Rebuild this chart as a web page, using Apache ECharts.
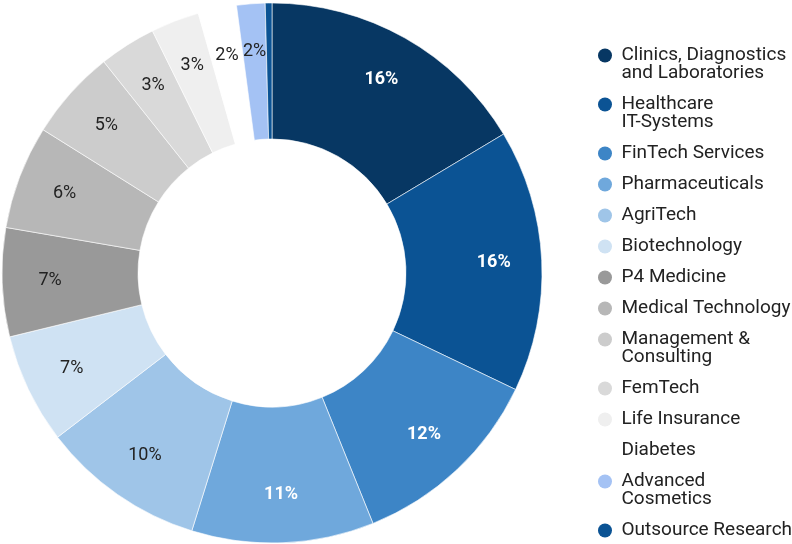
<!DOCTYPE html>
<html>
<head>
<meta charset="utf-8">
<script src="https://cdn.jsdelivr.net/npm/echarts@6/dist/echarts.min.js"></script>
<style>
html,body{margin:0;padding:0;background:#fff;}
#chart{width:792px;height:544px;}
</style>
</head>
<body>
<div id="chart"></div>
<script>
// ---- data ----
const categories = [
  'Clinics, Diagnostics and Laboratories',
  'Healthcare IT-Systems',
  'FinTech Services',
  'Pharmaceuticals',
  'AgriTech',
  'Biotechnology',
  'P4 Medicine',
  'Medical Technology',
  'Management & Consulting',
  'FemTech',
  'Life Insurance',
  'Diabetes',
  'Advanced Cosmetics',
  'Outsource Research'
];
const values = [16.4, 15.7, 11.8, 10.9, 9.8, 6.6, 6.5, 6.2, 5.4, 3.4, 2.9, 2.3, 1.7, 0.4];
const legendLines = [
  ['Clinics, Diagnostics', 'and Laboratories'],
  ['Healthcare', 'IT-Systems'],
  ['FinTech Services'],
  ['Pharmaceuticals'],
  ['AgriTech'],
  ['Biotechnology'],
  ['P4 Medicine'],
  ['Medical Technology'],
  ['Management &', 'Consulting'],
  ['FemTech'],
  ['Life Insurance'],
  ['Diabetes'],
  ['Advanced', 'Cosmetics'],
  ['Outsource Research']
];

// ---- styles ----
const colors = ['#073763', '#0b5394', '#3d85c6', '#6fa8dc', '#9fc5e8', '#cfe2f3',
  '#999999', '#b7b7b7', '#cccccc', '#d9d9d9', '#efefef', '#ffffff', '#a4c2f4', '#0b5394'];
const labelColors = ['#ffffff', '#ffffff', '#ffffff', '#ffffff', '#222222', '#222222',
  '#222222', '#222222', '#222222', '#222222', '#222222', '#222222', '#222222', '#222222'];
const FONT = 'Roboto, "Noto Sans", sans-serif';

const rich = {
  t: { fontSize: 19, lineHeight: 18, fontFamily: FONT, color: '#222222' },
  g: { width: 9.5, lineHeight: 18 },
  s: { width: 23.5, lineHeight: 18 }
};
colors.forEach(function (c, i) {
  rich['d' + i] = { width: 14, height: 14, borderRadius: 7, backgroundColor: c, lineHeight: 18 };
});

const pieData = categories.map(function (name, i) {
  return { name: name, value: values[i], itemStyle: { color: colors[i] } };
});
const labelData = categories.map(function (name, i) {
  return {
    name: name, value: values[i],
    itemStyle: { color: 'rgba(0,0,0,0)' },
    label: {
      color: labelColors[i],
      fontWeight: labelColors[i] === '#ffffff' ? 'bold' : 'normal'
    }
  };
});

const chart = echarts.init(document.getElementById('chart'), null, { renderer: 'canvas' });
chart.setOption({
  animation: false,
  backgroundColor: '#ffffff',
  legend: {
    orient: 'vertical',
    left: 588,
    top: 41,
    bottom: 0,
    itemGap: 12,
    itemWidth: 0,
    itemHeight: 14,
    icon: 'none',
    selectedMode: false,
    data: categories,
    textStyle: { fontSize: 19, lineHeight: 18, fontFamily: FONT, color: '#222222', rich: rich },
    formatter: function (name) {
      const i = categories.indexOf(name);
      const lines = legendLines[i];
      let s = '{d' + i + '|}{g|}{t|' + lines[0] + '}';
      for (let k = 1; k < lines.length; k++) {
        s += '\n{s|}{t|' + lines[k] + '}';
      }
      return s;
    }
  },
  series: [
    {
      type: 'pie',
      center: [272, 273],
      radius: [134, 270],
      startAngle: 90,
      clockwise: true,
      avoidLabelOverlap: false,
      label: { show: false },
      labelLine: { show: false },
      itemStyle: { borderColor: '#ffffff', borderWidth: 0.6 },
      emphasis: { disabled: true },
      data: pieData
    },
    {
      type: 'pie',
      center: [272, 273],
      radius: [168, 270],
      startAngle: 90,
      clockwise: true,
      silent: true,
      avoidLabelOverlap: false,
      labelLine: { show: false },
      emphasis: { disabled: true },
      label: {
        show: true,
        position: 'inside',
        fontSize: 18,
        fontFamily: FONT,
        formatter: function (p) {
          return p.percent < 1 ? '' : Math.round(p.percent) + '%';
        }
      },
      data: labelData
    }
  ]
});
</script>
</body>
</html>
